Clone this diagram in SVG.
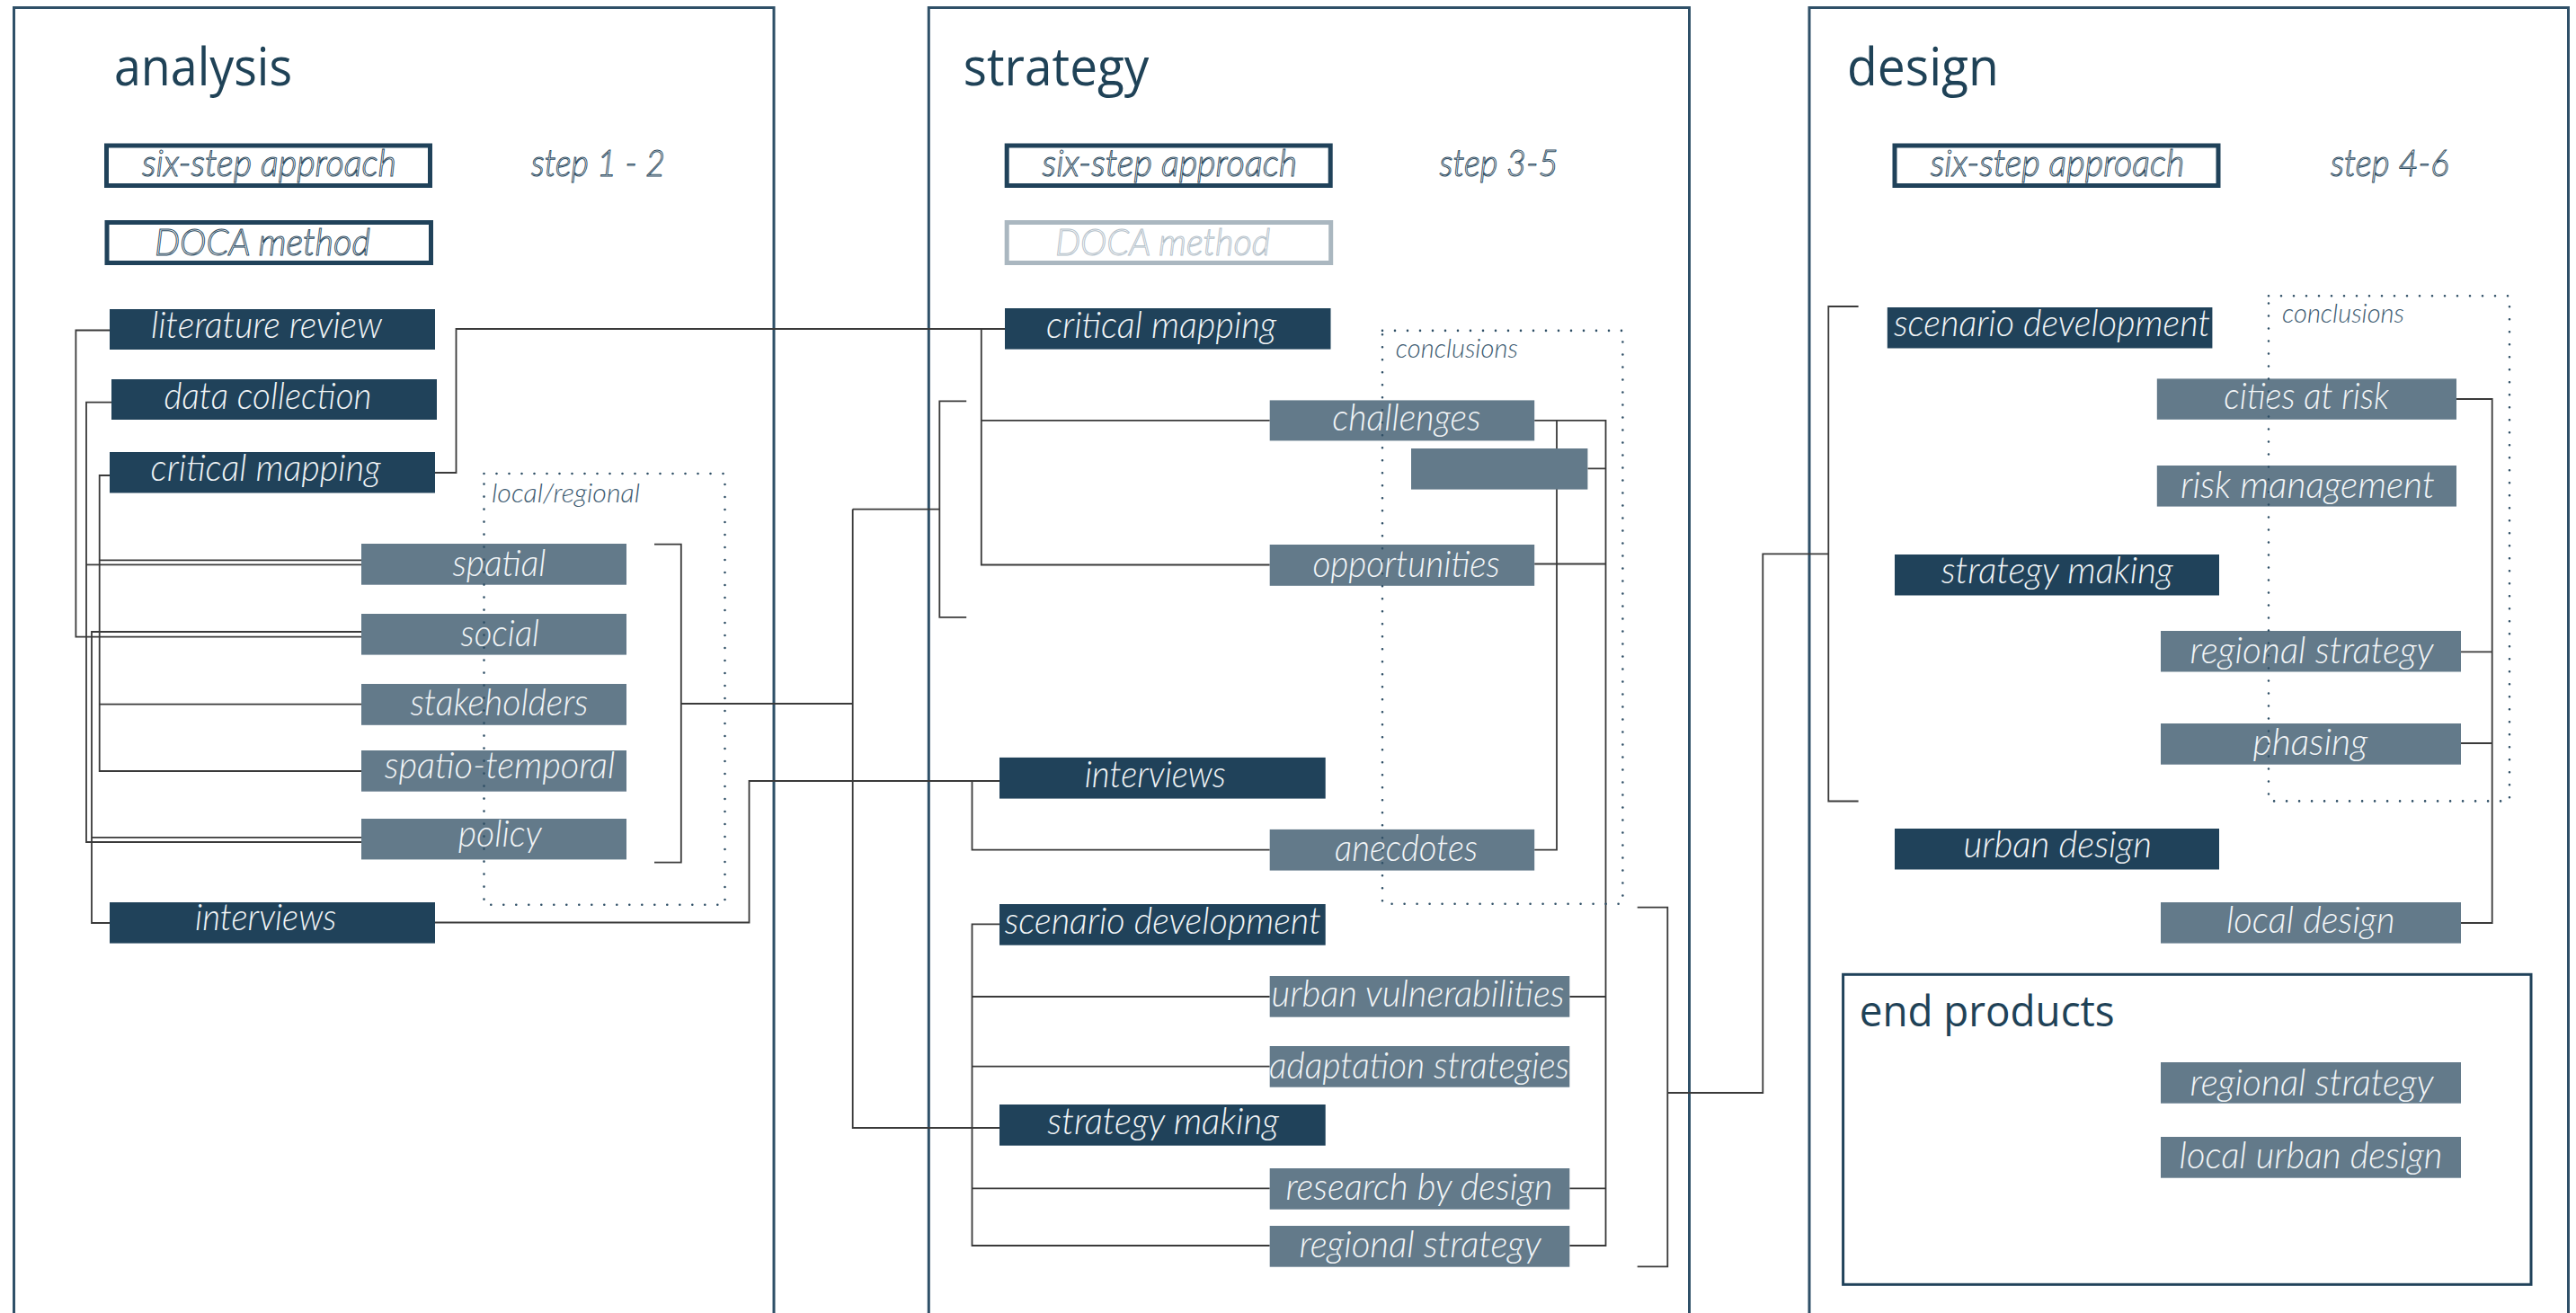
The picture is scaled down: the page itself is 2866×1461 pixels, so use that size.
<svg xmlns="http://www.w3.org/2000/svg" width="2866" height="1461" viewBox="0 0 2866 1461">
  <style>
    text{font-family:"Open Sans","Noto Sans","Liberation Sans",sans-serif}
    .title{font-size:58px;fill:#1f4257}
    .sub{font-size:47px;fill:#1f4257}
    .lbl,.hollow,.hollow-dim,.note{font-family:"Lato","Open Sans","Liberation Sans",sans-serif;font-style:italic;font-weight:300}
    .lbl{font-size:42px;fill:#f2f5f7}
    .hollow{font-size:41px;fill:#ffffff;stroke:#2c4b61;stroke-width:1}
    .hollow-dim{font-size:41px;fill:#ffffff;stroke:#b3c0c9;stroke-width:1}
    .note{font-size:29px;fill:#3c5a70}
    .dk{fill:#20425a}
    .lt{fill:#637a8a}
    .panel{fill:none;stroke:#2f5068;stroke-width:3}
    .frame{fill:#ffffff;stroke:#20425a;stroke-width:5}
    .frame-dim{fill:#ffffff;stroke:#aab7c0;stroke-width:5}
    .con{fill:none;stroke:#3a3a3a;stroke-width:1.8}
    .dots{fill:none;stroke:#2f4f66;stroke-width:2.6;stroke-dasharray:0 14;stroke-linecap:round}
  </style>

  <rect x="0" y="0" width="2866" height="1461" fill="#ffffff"/>

  <!-- column frames -->
  <g id="panels">
    <rect class="panel" x="15.5" y="8.5" width="845.5" height="1470"/>
    <rect class="panel" x="1033.3" y="8.5" width="846.2" height="1470"/>
    <rect class="panel" x="2013" y="8.5" width="844.5" height="1470"/>
  </g>

  <!-- connectors -->
  <g id="connectors">
    <!-- analysis: sources to local/regional themes -->
    <path class="con" d="M122,367.5 H84.4 V708.6 H402"/>
    <path class="con" d="M124,447.7 H96 V937 H402 M96,628.3 H402"/>
    <path class="con" d="M122,529 H110.7 V858 H402 M110.7,623.3 H402 M110.7,783.6 H402"/>
    <path class="con" d="M122,1027 H102 V703 H402 M102,931.8 H402"/>
    <path class="con" d="M728,605.7 H757.8 V959.6 H728 M757.8,783 H948.7"/>
    <!-- analysis to strategy -->
    <path class="con" d="M948.7,566.6 V1255 H1112 M948.7,566.6 H1045.3"/>
    <path class="con" d="M1075.2,446.4 H1045.3 V686.8 H1075.2"/>
    <path class="con" d="M484,526 H507.5 V366 H1118 M1091.8,366 V628.5 H1412.7 M1091.8,467.9 H1412.7"/>
    <path class="con" d="M484,1026.5 H833.5 V869 H1112 M1081.5,869 V945.7 H1412.7"/>
    <!-- strategy: conclusions spine -->
    <path class="con" d="M1707.2,467.9 H1786.5 V1386 H1746.3 M1766.4,521.4 H1786.5 M1707.2,627.5 H1786.5 M1746.3,1109 H1786.5 M1746.3,1322.3 H1786.5"/>
    <path class="con" d="M1732,467.9 V945.7 H1707.2"/>
    <!-- strategy: scenario / strategy making tree -->
    <path class="con" d="M1112,1028.3 H1081.5 V1386 H1412.7 M1081.5,1109 H1412.7 M1081.5,1186.7 H1412.7 M1081.5,1322.3 H1412.7"/>
    <!-- strategy to design -->
    <path class="con" d="M1821.7,1009.6 H1855.3 V1409.3 H1821.7 M1855.3,1216 H1961.3 V616.3 H2034.3"/>
    <path class="con" d="M2067.6,341 H2034.3 V891.5 H2067.6"/>
    <!-- design: conclusions spine -->
    <path class="con" d="M2733,444 H2772.7 V1027 H2738 M2738,725.4 H2772.7 M2738,827 H2772.7"/>
  </g>

  <!-- analysis column -->
  <g id="analysis">
    <text class="title" x="127" y="94.6" textLength="198" lengthAdjust="spacingAndGlyphs">analysis</text>
    <g id="a-sixstep">
      <rect class="frame" x="118.5" y="162" width="360" height="44.5"/>
      <text class="hollow" x="158" y="196" textLength="283" lengthAdjust="spacingAndGlyphs">six-step approach</text>
    </g>
    <text class="hollow" x="591" y="196" textLength="149" lengthAdjust="spacingAndGlyphs">step 1 - 2</text>
    <g id="a-doca">
      <rect class="frame" x="119" y="247.5" width="360.5" height="45"/>
      <text class="hollow" x="172" y="284" textLength="240" lengthAdjust="spacingAndGlyphs">DOCA method</text>
    </g>
    <g id="a-literature">
      <rect class="dk" x="122" y="344" width="362" height="45"/>
      <text class="lbl" x="168" y="376" textLength="257" lengthAdjust="spacingAndGlyphs">literature review</text>
    </g>
    <g id="a-data">
      <rect class="dk" x="124" y="422" width="362" height="45"/>
      <text class="lbl" x="182.5" y="454.8" textLength="231" lengthAdjust="spacingAndGlyphs">data collection</text>
    </g>
    <g id="a-mapping">
      <rect class="dk" x="122" y="503" width="362" height="45.5"/>
      <text class="lbl" x="167.6" y="534.5" textLength="256" lengthAdjust="spacingAndGlyphs">critical mapping</text>
    </g>
    <g id="a-spatial">
      <rect class="lt" x="402" y="605" width="295" height="45.7"/>
      <text class="lbl" x="503.4" y="641" textLength="104" lengthAdjust="spacingAndGlyphs">spatial</text>
    </g>
    <g id="a-social">
      <rect class="lt" x="402" y="683" width="295" height="45.6"/>
      <text class="lbl" x="512.6" y="719" textLength="87.4" lengthAdjust="spacingAndGlyphs">social</text>
    </g>
    <g id="a-stakeholders">
      <rect class="lt" x="402" y="761" width="295" height="45.8"/>
      <text class="lbl" x="456.4" y="795.5" textLength="198" lengthAdjust="spacingAndGlyphs">stakeholders</text>
    </g>
    <g id="a-spatiotemporal">
      <rect class="lt" x="402" y="835" width="295" height="45.7"/>
      <text class="lbl" x="427.7" y="866" textLength="256.6" lengthAdjust="spacingAndGlyphs">spatio-temporal</text>
    </g>
    <g id="a-policy">
      <rect class="lt" x="402" y="911" width="295" height="45.4"/>
      <text class="lbl" x="509.8" y="941.8" textLength="93" lengthAdjust="spacingAndGlyphs">policy</text>
    </g>
    <g id="a-interviews">
      <rect class="dk" x="122" y="1004" width="362" height="45.6"/>
      <text class="lbl" x="217" y="1034.5" textLength="157.3" lengthAdjust="spacingAndGlyphs">interviews</text>
    </g>
    <g id="a-local-regional">
      <rect class="dots" x="538.5" y="527" width="268" height="479.8"/>
      <text class="note" x="547" y="559" textLength="165" lengthAdjust="spacingAndGlyphs">local/regional</text>
    </g>
  </g>

  <!-- strategy column -->
  <g id="strategy">
    <text class="title" x="1071.8" y="94.6" textLength="206.6" lengthAdjust="spacingAndGlyphs">strategy</text>
    <g id="s-sixstep">
      <rect class="frame" x="1120.2" y="162" width="360" height="44.5"/>
      <text class="hollow" x="1159.6" y="196" textLength="283.6" lengthAdjust="spacingAndGlyphs">six-step approach</text>
    </g>
    <text class="hollow" x="1601.6" y="196" textLength="132" lengthAdjust="spacingAndGlyphs">step 3-5</text>
    <g id="s-doca">
      <rect class="frame-dim" x="1120.2" y="247.5" width="360.5" height="45"/>
      <text class="hollow-dim" x="1174" y="284" textLength="239.3" lengthAdjust="spacingAndGlyphs">DOCA method</text>
    </g>
    <g id="s-mapping">
      <rect class="dk" x="1118" y="343" width="362.5" height="45.6"/>
      <text class="lbl" x="1164" y="375.5" textLength="256" lengthAdjust="spacingAndGlyphs">critical mapping</text>
    </g>
    <g id="s-challenges">
      <rect class="lt" x="1412.7" y="445.4" width="294.5" height="45"/>
      <text class="lbl" x="1482.2" y="479" textLength="165.3" lengthAdjust="spacingAndGlyphs">challenges</text>
    </g>
    <g id="s-blank">
      <rect class="lt" x="1570" y="499" width="196.4" height="45.6"/>
    </g>
    <g id="s-opportunities">
      <rect class="lt" x="1412.7" y="606" width="294.5" height="45.8"/>
      <text class="lbl" x="1460.4" y="641.8" textLength="208.4" lengthAdjust="spacingAndGlyphs">opportunities</text>
    </g>
    <g id="s-interviews">
      <rect class="dk" x="1112" y="842.9" width="362.7" height="45.7"/>
      <text class="lbl" x="1206.7" y="875.8" textLength="157.3" lengthAdjust="spacingAndGlyphs">interviews</text>
    </g>
    <g id="s-anecdotes">
      <rect class="lt" x="1412.7" y="922.9" width="294.5" height="45.7"/>
      <text class="lbl" x="1485" y="957.8" textLength="159" lengthAdjust="spacingAndGlyphs">anecdotes</text>
    </g>
    <g id="s-scenario">
      <rect class="dk" x="1112" y="1006" width="362.7" height="45.7"/>
      <text class="lbl" x="1117.7" y="1038.6" textLength="352" lengthAdjust="spacingAndGlyphs">scenario development</text>
    </g>
    <g id="s-vulnerabilities">
      <rect class="lt" x="1412.7" y="1086" width="333.6" height="45.7"/>
      <text class="lbl" x="1414.5" y="1120.3" textLength="326" lengthAdjust="spacingAndGlyphs">urban vulnerabilities</text>
    </g>
    <g id="s-adaptation">
      <rect class="lt" x="1412.7" y="1164" width="333.6" height="45.7"/>
      <text class="lbl" x="1412" y="1200.3" textLength="334" lengthAdjust="spacingAndGlyphs">adaptation strategies</text>
    </g>
    <g id="s-strategy-making">
      <rect class="dk" x="1112" y="1229" width="362.7" height="45.7"/>
      <text class="lbl" x="1165.3" y="1262" textLength="257.7" lengthAdjust="spacingAndGlyphs">strategy making</text>
    </g>
    <g id="s-research">
      <rect class="lt" x="1412.7" y="1300" width="333.6" height="45.7"/>
      <text class="lbl" x="1430.5" y="1335.3" textLength="296.8" lengthAdjust="spacingAndGlyphs">research by design</text>
    </g>
    <g id="s-regional">
      <rect class="lt" x="1412.7" y="1364" width="333.6" height="45.7"/>
      <text class="lbl" x="1445.5" y="1398.6" textLength="269.2" lengthAdjust="spacingAndGlyphs">regional strategy</text>
    </g>
    <g id="s-conclusions">
      <rect class="dots" x="1538" y="367.9" width="267.4" height="637.8"/>
      <text class="note" x="1552.8" y="398" textLength="136" lengthAdjust="spacingAndGlyphs">conclusions</text>
    </g>
  </g>

  <!-- design column -->
  <g id="design">
    <text class="title" x="2055" y="94.6" textLength="169" lengthAdjust="spacingAndGlyphs">design</text>
    <g id="d-sixstep">
      <rect class="frame" x="2108" y="162" width="360" height="44.5"/>
      <text class="hollow" x="2147.8" y="196" textLength="282.5" lengthAdjust="spacingAndGlyphs">six-step approach</text>
    </g>
    <text class="hollow" x="2593" y="196" textLength="131.6" lengthAdjust="spacingAndGlyphs">step 4-6</text>
    <g id="d-scenario">
      <rect class="dk" x="2099.8" y="342" width="361.6" height="45.5"/>
      <text class="lbl" x="2107" y="373.6" textLength="352" lengthAdjust="spacingAndGlyphs">scenario development</text>
    </g>
    <g id="d-cities">
      <rect class="lt" x="2399.8" y="421.4" width="333.2" height="45.4"/>
      <text class="lbl" x="2474.3" y="454.6" textLength="183.7" lengthAdjust="spacingAndGlyphs">cities at risk</text>
    </g>
    <g id="d-risk">
      <rect class="lt" x="2399.8" y="518" width="333.2" height="45.6"/>
      <text class="lbl" x="2426" y="554.3" textLength="282.8" lengthAdjust="spacingAndGlyphs">risk management</text>
    </g>
    <g id="d-strategy-making">
      <rect class="dk" x="2108" y="617" width="361" height="45.5"/>
      <text class="lbl" x="2159.7" y="649" textLength="258" lengthAdjust="spacingAndGlyphs">strategy making</text>
    </g>
    <g id="d-regional">
      <rect class="lt" x="2404" y="702" width="334" height="45.5"/>
      <text class="lbl" x="2436.5" y="738.2" textLength="271.2" lengthAdjust="spacingAndGlyphs">regional strategy</text>
    </g>
    <g id="d-phasing">
      <rect class="lt" x="2404" y="805" width="334" height="45.7"/>
      <text class="lbl" x="2506.5" y="840" textLength="127.7" lengthAdjust="spacingAndGlyphs">phasing</text>
    </g>
    <g id="d-urban-design">
      <rect class="dk" x="2108" y="922" width="361" height="45.5"/>
      <text class="lbl" x="2184.5" y="954.4" textLength="209.5" lengthAdjust="spacingAndGlyphs">urban design</text>
    </g>
    <g id="d-local-design">
      <rect class="lt" x="2404" y="1004" width="334" height="45.6"/>
      <text class="lbl" x="2477" y="1038.2" textLength="187.7" lengthAdjust="spacingAndGlyphs">local design</text>
    </g>
    <g id="d-conclusions">
      <rect class="dots" x="2524" y="329.3" width="268" height="562.1"/>
      <text class="note" x="2539" y="359" textLength="136" lengthAdjust="spacingAndGlyphs">conclusions</text>
    </g>
    <g id="d-end-products">
      <rect fill="none" stroke="#20425a" stroke-width="3" x="2050.6" y="1084.3" width="765.4" height="345"/>
      <text class="sub" x="2068.7" y="1141.7" textLength="284" lengthAdjust="spacingAndGlyphs">end products</text>
      <g id="d-end-regional">
        <rect class="lt" x="2404" y="1182" width="334" height="45.7"/>
        <text class="lbl" x="2436.5" y="1218.6" textLength="271.2" lengthAdjust="spacingAndGlyphs">regional strategy</text>
      </g>
      <g id="d-end-local">
        <rect class="lt" x="2404" y="1265" width="334" height="45.7"/>
        <text class="lbl" x="2424.6" y="1300.3" textLength="292.7" lengthAdjust="spacingAndGlyphs">local urban design</text>
      </g>
    </g>
  </g>
</svg>
